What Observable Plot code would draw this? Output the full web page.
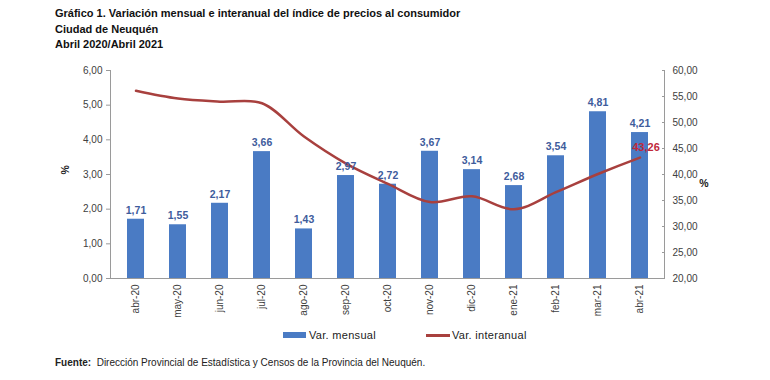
<!DOCTYPE html>
<html>
<head>
<meta charset="utf-8">
<script src="https://cdn.jsdelivr.net/npm/d3@7"></script>
<script src="https://cdn.jsdelivr.net/npm/@observablehq/plot@0.6"></script>
<style>
  body { margin: 0; background: #fff; font-family: "Liberation Sans", Arial, sans-serif; }
  #fig { position: relative; width: 770px; height: 380px; overflow: hidden; }
  .title { position: absolute; left: 55px; top: 6px; font-weight: bold; font-size: 11px; line-height: 15.5px; color: #111; }
  #chart { position: absolute; left: 0; top: 55px; }
  .legend { position: absolute; top: 329px; font-size: 11px; color: #222; letter-spacing: 0.3px; display: flex; align-items: center; }
  .sw { display: inline-block; width: 23px; height: 6px; margin-right: 3px; }
  .ln { display: inline-block; width: 24px; height: 3px; margin-right: 2px; }
  .foot { position: absolute; left: 55px; top: 357px; font-size: 10px; color: #222; }
</style>
</head>
<body>
<div id="fig">
  <div class="title">Gráfico 1. Variación mensual e interanual del índice de precios al consumidor<br>Ciudad de Neuquén<br>Abril 2020/Abril 2021</div>
  <div id="chart"></div>
  <div class="legend" style="left:283px"><span class="sw" style="background:#4a7bc4"></span>Var. mensual</div>
  <div class="legend" style="left:426px"><span class="ln" style="background:#a8403e"></span>Var. interanual</div>
  <div class="foot"><b>Fuente:</b>&nbsp; Dirección Provincial de Estadística y Censos de la Provincia del Neuquén.</div>
</div>
<script>
const months = ["abr-20","may-20","jun-20","jul-20","ago-20","sep-20","oct-20","nov-20","dic-20","ene-21","feb-21","mar-21","abr-21"];
const mensual = [1.71,1.55,2.17,3.66,1.43,2.97,2.72,3.67,3.14,2.68,3.54,4.81,4.21];
const interanual = [56.1,54.6,54.0,53.7,47.3,42.1,38.2,34.7,35.8,33.3,36.6,40.1,43.26];
const leftTicks = [0,1,2,3,4,5,6];
const rightTicks = [20,25,30,35,40,45,50,55,60];

const leftDomain = [0, 6];
const rightDomain = [20, 60];
const toLeft = v => (v - rightDomain[0]) / (rightDomain[1] - rightDomain[0]) * (leftDomain[1] - leftDomain[0]) + leftDomain[0];
const toRight = v => (v - leftDomain[0]) / (leftDomain[1] - leftDomain[0]) * (rightDomain[1] - rightDomain[0]) + rightDomain[0];
const fmt = v => v.toFixed(2).replace(".", ",");

const data = months.map((m, i) => ({month: m, mensual: mensual[i], interanual: interanual[i]}));
const last = [data[data.length - 1]];

const plot = Plot.plot({
  width: 770,
  height: 270,
  marginLeft: 110,
  marginRight: 106,
  marginTop: 15,
  marginBottom: 47,
  style: {fontFamily: "'Liberation Sans', Arial, sans-serif", fontSize: "10px", color: "#404040", background: "white"},
  x: {type: "band", domain: months, paddingInner: 0.6, paddingOuter: 0.3, label: null},
  y: {domain: leftDomain, label: null},
  marks: [
    Plot.barY(data, {x: "month", y: "mensual", fill: "#4a7bc4"}),
    Plot.ruleY([0], {stroke: "#9a9a9a"}),
    Plot.frame({anchor: "left", stroke: "#9a9a9a"}),
    Plot.frame({anchor: "right", stroke: "#9a9a9a"}),
    Plot.axisY(leftTicks, {anchor: "left", tickSize: 4, tickPadding: 4, tickFormat: fmt, stroke: "#9a9a9a", fill: "#404040", label: null}),
    Plot.axisY(rightTicks.map(toLeft), {anchor: "right", tickSize: -3, tickPadding: 11, tickFormat: d => fmt(toRight(d)), stroke: "#9a9a9a", fill: "#404040", label: null}),
    Plot.axisX({tickSize: 0, tickRotate: -90, tickPadding: 6, fill: "#404040", label: null}),
    Plot.line(data, {x: "month", y: d => toLeft(d.interanual), stroke: "#a8403e", strokeWidth: 2.5, curve: "catmull-rom"}),
    Plot.text(data, {x: "month", y: "mensual", text: d => fmt(d.mensual), dy: -9, fill: "#3e5c9c", fontWeight: "bold", fontSize: 10.5}),
    Plot.text(last, {x: "month", y: d => toLeft(d.interanual), text: d => fmt(d.interanual), dy: -10, dx: 6, fill: "#c0283a", fontWeight: "bold", fontSize: 11}),
    Plot.text(["%"], {frameAnchor: "left", dx: -45, rotate: -90, fontWeight: "bold", fontSize: 10.5, fill: "#222"}),
    Plot.text(["%"], {frameAnchor: "right", dx: 44, dy: 9, fontWeight: "bold", fontSize: 10.5, fill: "#222"})
  ]
});
document.getElementById("chart").appendChild(plot);
</script>
</body>
</html>
